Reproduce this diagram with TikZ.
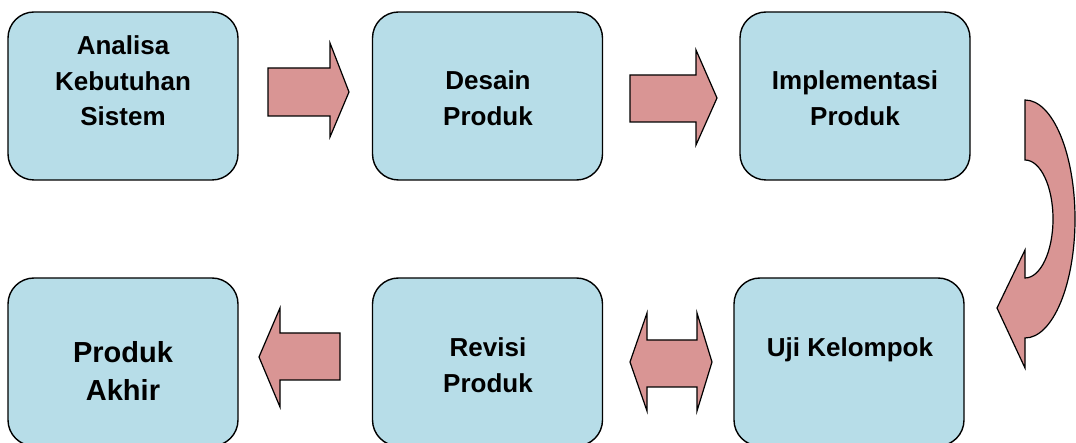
\documentclass[tikz,border=0pt]{standalone}
\usepackage{fontspec}
\setmainfont{Liberation Sans}
\definecolor{boxblue}{HTML}{B7DDE8}
\definecolor{arrowred}{HTML}{D99594}

\begin{document}
\begin{tikzpicture}[x=1pt,y=-1pt,
	stagebox/.style={draw, line width=1.4pt, fill=boxblue, rounded corners=26pt,
		minimum width=230pt, minimum height=168pt, inner sep=0pt},
	stagetext/.style={align=center, font=\bfseries\fontsize{26}{35.5}\selectfont},
	bigtext/.style={align=center, font=\bfseries\fontsize{29}{38}\selectfont},
	blockarrow/.style={draw, line width=1.2pt, fill=arrowred, line join=miter}]
		\useasboundingbox (0,0) rectangle (1076,443);
		
		\node[stagebox] (analisa) at (123,96) {};  % row 1
		\node[stagebox] (desain) at (487.5,96) {};
		\node[stagebox] (implementasi) at (855,96) {};
		\node[stagebox] (akhir) at (123,362) {};  % row 2
		\node[stagebox] (revisi) at (487.5,362) {};
		\node[stagebox] (uji) at (849,362) {};
		
		\node[stagetext] (analisaText) at (123,81) {Analisa\\Kebutuhan\\Sistem};
		\node[stagetext] (desainText) at (488,98) {Desain\\Produk};
		\node[stagetext] (implementasiText) at (855,98) {Implementasi\\Produk};
		\node[bigtext] (akhirText) at (123,371) {Produk\\Akhir};
		\node[stagetext] (revisiText) at (488,365) {Revisi\\Produk};
		\node[stagetext] (ujiText) at (850,350) {Uji Kelompok};
		
		\draw[blockarrow] (268,68) -- (330,68) -- (330,43) -- (349,92) -- (330,137) -- (330,116) -- (268,116) -- cycle;  % analisa -> desain
		\draw[blockarrow] (630,75) -- (696,75) -- (696,50) -- (717,98) -- (696,145) -- (696,122) -- (630,122) -- cycle;  % desain -> implementasi
		\draw[blockarrow] (1025,100) -- (1025,160)
			.. controls (1040.5,160) and (1053,186.4) .. (1053,219)
			.. controls (1053,251.6) and (1040.5,278) .. (1025,278)
			-- (1025,250) -- (997,308) -- (1025,368) -- (1025,338)
			.. controls (1052.6,338) and (1075,284.7) .. (1075,219)
			.. controls (1075,153.3) and (1052.6,100) .. (1025,100) -- cycle;  % implementasi -> uji
		\draw[blockarrow] (630,362) -- (647,313) -- (647,340) -- (697,340) -- (697,313) -- (712,362) -- (697,411) -- (697,387) -- (647,387) -- (647,411) -- cycle;  % uji <-> revisi
		\draw[blockarrow] (340,333) -- (280,333) -- (280,308) -- (259,357) -- (280,407) -- (280,380) -- (340,380) -- cycle;  % revisi -> akhir
		
	\end{tikzpicture}
\end{document}
